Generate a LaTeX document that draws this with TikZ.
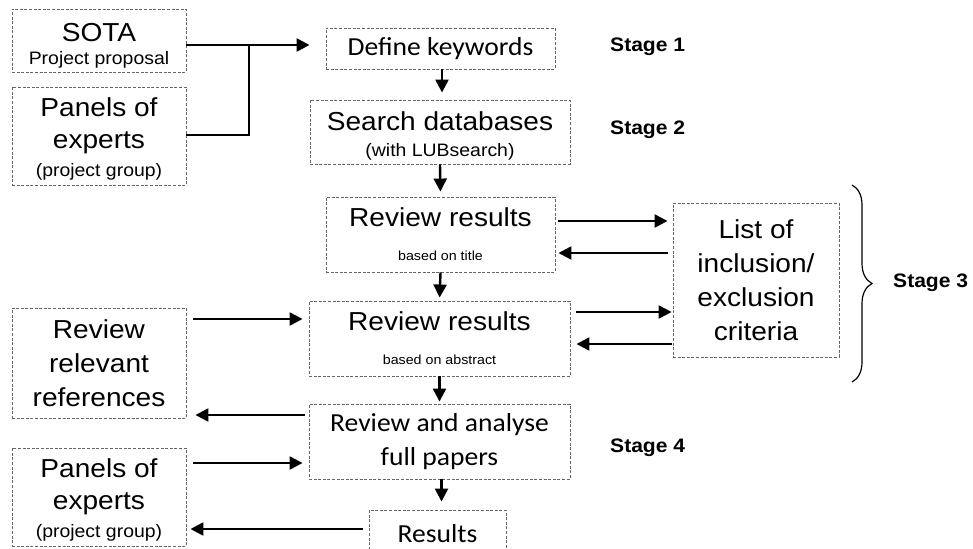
\documentclass[tikz,border=0pt]{standalone}
\usepackage{fontspec}
\setmainfont[FakeStretch=1.08]{Liberation Sans}
\newfontfamily\calibri[FakeStretch=1.06]{Carlito}
\usetikzlibrary{arrows.meta,decorations.pathreplacing}
\newcommand{\bigtxt}{\fontsize{26}{34}\selectfont}
\newcommand{\subtxt}{\fontsize{18}{22}\selectfont}
\newcommand{\notetxt}{\fontsize{13.2}{16}\selectfont}
\tikzset{
  box/.style={draw=black!60, dash pattern=on 3pt off 1.6pt, line width=0.9pt, align=center, inner sep=0pt, font=\bigtxt},
  flow/.style={line width=2.4pt, -{Triangle[length=13pt,width=13pt]}},
  stagetxt/.style={anchor=west, inner sep=0pt, font=\fontsize{19.5}{24}\selectfont\bfseries},
}
\begin{document}
\begin{tikzpicture}[x=1pt, y=-1pt]
\clip (0,0) rectangle (973,548);
%% Nodes
\node[box, minimum width=174, minimum height=63](sota) at (99,40.5) {\rule{0pt}{28pt}SOTA\\[-11pt]\subtxt Project proposal};
\node[box, minimum width=174, minimum height=98](panA) at (99,136) {\rule{0pt}{24pt}Panels of\\[-2pt]experts\\[-6pt]\subtxt (project group)};
\node[box, minimum width=229, minimum height=41, font=\calibri\bigtxt](kw) at (440.5,48.5) {Define keywords};
\node[box, minimum width=260, minimum height=64](search) at (440,132) {\rule{0pt}{26pt}Search databases\\[-8pt]\subtxt (with LUBsearch)};
\node[box, minimum width=229, minimum height=75](rr1) at (440.5,234.5) {Review results\\[0pt]\notetxt based on title};
\node[box, minimum width=261, minimum height=75](rr2) at (439.5,338.5) {Review results\\[0pt]\notetxt based on abstract};
\node[box, minimum width=166, minimum height=154](list) at (756,280) {List of\\inclusion/\\exclusion\\criteria};
\node[box, minimum width=174, minimum height=110](refs) at (99,363) {Review\\relevant\\references};
\node[box, minimum width=261, minimum height=75, font=\calibri\bigtxt](full) at (439.5,441.5) {Review and analyse\\full papers};
\node[box, minimum width=174, minimum height=98](panB) at (99,497) {\rule{0pt}{24pt}Panels of\\[-2pt]experts\\[-6pt]\subtxt (project group)};
\node[box, minimum width=137, minimum height=48, font=\calibri\bigtxt](res) at (437.5,534) {Results};
\node[stagetxt](s1) at (610,47) {Stage 1};
\node[stagetxt](s2) at (610,130) {Stage 2};
\node[stagetxt](s3) at (893,283) {Stage 3};
\node[stagetxt](s4) at (610,448) {Stage 4};
\coordinate (join) at (249,45);
\coordinate (braceTop) at (852,185);
\coordinate (braceBot) at (852,382);
%% Lines
\draw[flow, shorten >=16pt] ([yshift=-4.5pt]sota.east) -- ([yshift=3.5pt]kw.west);
\draw[line width=2.4pt] ([yshift=1pt]panA.east) -| (join);
\draw[flow, shorten >=7pt] ([xshift=1.5pt]kw.south) -- ([xshift=2pt]search.north);
\draw[flow, shorten >=5pt] (search.south) -- (rr1.north);
\draw[flow, shorten >=3pt] (rr1.south) -- (rr2.north);
\draw[flow, shorten >=2pt] (rr2.south) -- (full.north);
\draw[flow, shorten >=8pt] ([xshift=2pt]full.south) -- ([xshift=4pt]res.north);
\draw[flow, shorten <=3pt, shorten >=5pt] ([yshift=13.5pt]rr1.east) -- ([yshift=59pt]list.west);
\draw[flow, shorten <=5pt, shorten >=3pt] ([yshift=27pt]list.west) -- ([yshift=-18.5pt]rr1.east);
\draw[flow, shorten <=6pt, shorten >=1pt] ([yshift=26.5pt]rr2.east) -- ([yshift=-32pt]list.west);
\draw[flow, shorten <=1pt, shorten >=6pt] ([yshift=-64pt]list.west) -- ([yshift=-5.5pt]rr2.east);
\draw[flow, shorten <=7pt, shorten >=6pt] ([yshift=44pt]refs.east) -- ([yshift=19.5pt]rr2.west);
\draw[flow, shorten <=4pt, shorten >=9pt] ([yshift=26.5pt]full.west) -- ([yshift=-52pt]refs.east);
\draw[flow, shorten <=7pt, shorten >=6pt] ([yshift=34pt]panB.east) -- ([yshift=-21.5pt]full.west);
\draw[flow, shorten <=6pt, shorten >=4pt] ([yshift=5pt]res.west) -- ([yshift=-32pt]panB.east);
\draw[line width=1.2pt, decorate, decoration={brace, amplitude=20pt}] (braceTop) -- (braceBot);
\end{tikzpicture}
\end{document}
